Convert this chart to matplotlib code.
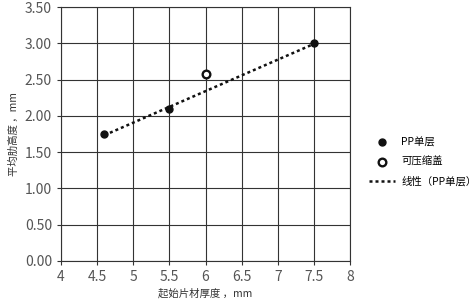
import numpy as np
import matplotlib.pyplot as plt

plt.rcParams['font.family'] = ['Noto Sans CJK SC', 'DejaVu Sans']

# data
pp_x = [4.6, 5.5, 7.5]
pp_y = [1.75, 2.10, 3.00]
cap_x = [6.0]
cap_y = [2.58]
x_ticks = [4, 4.5, 5, 5.5, 6, 6.5, 7, 7.5, 8]
y_ticks = [0.0, 0.5, 1.0, 1.5, 2.0, 2.5, 3.0, 3.5]

fig = plt.figure(figsize=(4.77, 3.07), dpi=100)
ax = fig.add_axes([0.128, 0.150, 0.606, 0.827])

# linear trend of PP single layer
k, b = np.polyfit(pp_x, pp_y, 1)
fx = np.array([min(pp_x), max(pp_x)])

ax.plot(pp_x, pp_y, 'o', color='#111111', markersize=5, label='PP单层', zorder=4)
ax.plot(cap_x, cap_y, 'o', mfc='white', mec='#111111', mew=1.7, markersize=5.5,
        label='可压缩盖', zorder=4)
ax.plot(fx, k * fx + b, linestyle=(0, (1.2, 1.2)), color='#111111', lw=1.8,
        label='线性（PP单层）', zorder=3)

ax.set_xlim(4, 8)
ax.set_ylim(0, 3.5)
ax.set_xticks(x_ticks)
ax.set_xticklabels([f'{t:g}' for t in x_ticks])
ax.set_yticks(y_ticks)
ax.set_yticklabels([f'{t:.2f}' for t in y_ticks])
ax.grid(True, color='#333333', lw=0.8)
for s in ax.spines.values():
    s.set_color('#333333')
    s.set_linewidth(0.8)
ax.tick_params(colors='#333333', labelcolor='#555555', labelsize=10, length=3, width=0.8)

ax.set_xlabel('起始片材厚度 ，mm', fontsize=7.5, color='#333333', labelpad=3)
ax.set_ylabel('平均肋高度 ，mm', fontsize=7.5, color='#333333', labelpad=4)

leg = ax.legend(loc='upper left', bbox_to_anchor=(0.765, 0.565), bbox_transform=fig.transFigure,
                frameon=False, fontsize=7.5, handlelength=2.5, labelspacing=0.9,
                handletextpad=0.6, borderaxespad=0)

plt.savefig('out.png', dpi=100)
